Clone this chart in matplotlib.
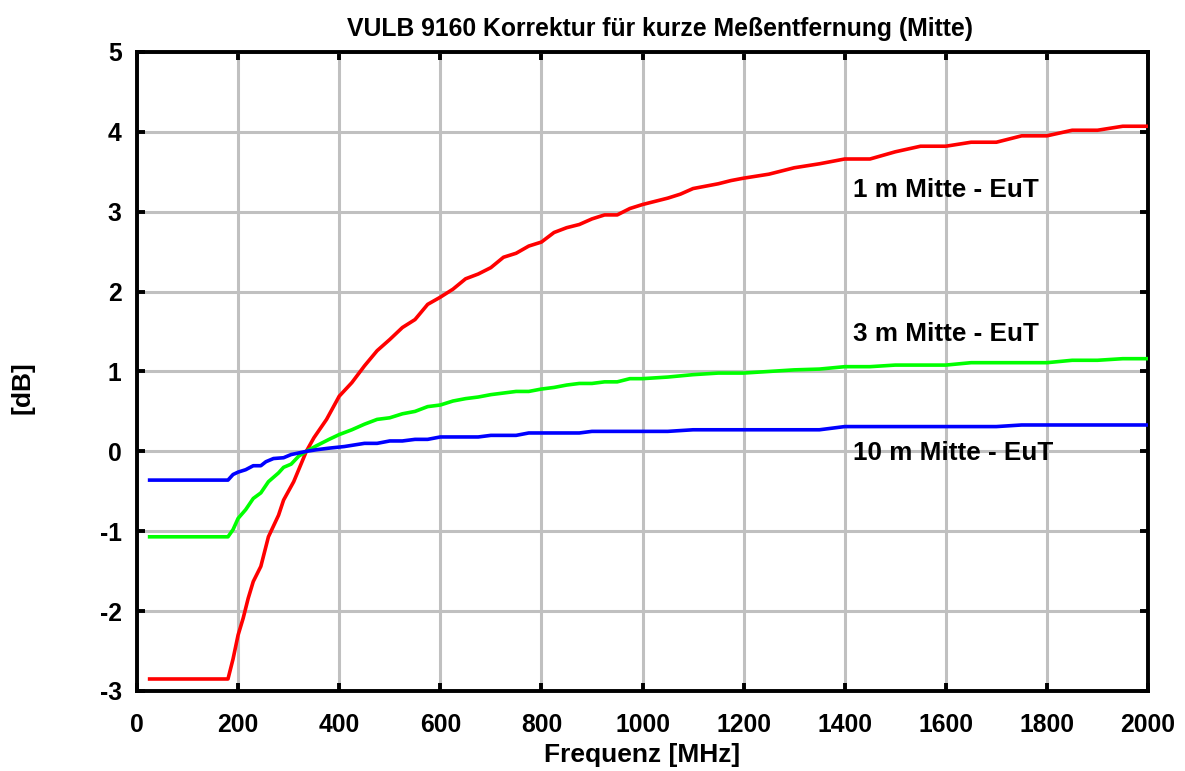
import matplotlib
matplotlib.use('Agg')
import matplotlib.pyplot as plt

plt.rcParams['font.family'] = ['Liberation Sans', 'DejaVu Sans']
plt.rcParams['font.weight'] = 'bold'
plt.rcParams['axes.unicode_minus'] = False

# 1 m Mitte - EuT
freq_1m = [25, 180, 190, 200, 210, 220, 230, 245, 260, 280, 290, 310, 335, 350, 375,
           400, 425, 450, 475, 500, 525, 550, 575, 600, 625, 650, 675, 700, 725, 750,
           775, 800, 825, 850, 875, 900, 925, 950, 975, 1000, 1025, 1050, 1075, 1100,
           1125, 1150, 1175, 1200, 1250, 1300, 1350, 1400, 1450, 1500, 1550, 1600,
           1650, 1700, 1750, 1800, 1850, 1900, 1950, 2000]
db_1m = [-2.85, -2.85, -2.60, -2.30, -2.09, -1.84, -1.63, -1.44, -1.07, -0.80, -0.61,
         -0.38, 0.00, 0.17, 0.40, 0.69, 0.86, 1.07, 1.26, 1.40, 1.55, 1.65, 1.84, 1.93,
         2.03, 2.16, 2.22, 2.30, 2.43, 2.48, 2.57, 2.62, 2.74, 2.80, 2.84, 2.91, 2.96,
         2.96, 3.04, 3.09, 3.13, 3.17, 3.22, 3.29, 3.32, 3.35, 3.39, 3.42, 3.47, 3.55,
         3.60, 3.66, 3.66, 3.75, 3.82, 3.82, 3.87, 3.87, 3.95, 3.95, 4.02, 4.02, 4.07,
         4.07]

# 3 m Mitte - EuT
freq_3m = [25, 180, 190, 200, 215, 230, 245, 260, 280, 290, 305, 320, 335, 355, 380,
           400, 425, 450, 475, 500, 525, 550, 575, 600, 625, 650, 675, 700, 750, 775,
           800, 825, 850, 875, 900, 925, 950, 975, 1000, 1050, 1100, 1150, 1200, 1250,
           1300, 1350, 1400, 1450, 1500, 1550, 1600, 1650, 1700, 1750, 1800, 1850,
           1900, 1950, 2000]
db_3m = [-1.07, -1.07, -0.98, -0.84, -0.73, -0.59, -0.52, -0.38, -0.27, -0.20, -0.16,
         -0.06, 0.00, 0.07, 0.15, 0.21, 0.27, 0.34, 0.40, 0.42, 0.47, 0.50, 0.56, 0.58,
         0.63, 0.66, 0.68, 0.71, 0.75, 0.75, 0.78, 0.80, 0.83, 0.85, 0.85, 0.87, 0.87,
         0.91, 0.91, 0.93, 0.96, 0.98, 0.98, 1.00, 1.02, 1.03, 1.06, 1.06, 1.08, 1.08,
         1.08, 1.11, 1.11, 1.11, 1.11, 1.14, 1.14, 1.16, 1.16]

# 10 m Mitte - EuT
freq_10m = [25, 180, 190, 200, 215, 230, 245, 255, 270, 290, 305, 320, 335, 355, 380,
            410, 430, 450, 475, 500, 525, 550, 575, 600, 675, 700, 750, 775, 875, 900,
            1050, 1100, 1350, 1400, 1700, 1750, 2000]
db_10m = [-0.36, -0.36, -0.29, -0.26, -0.23, -0.18, -0.18, -0.13, -0.09, -0.08, -0.04,
          -0.02, 0.00, 0.02, 0.04, 0.06, 0.08, 0.10, 0.10, 0.13, 0.13, 0.15, 0.15, 0.18,
          0.18, 0.20, 0.20, 0.23, 0.23, 0.25, 0.25, 0.27, 0.27, 0.31, 0.31, 0.33, 0.33]

labels = ["1 m Mitte - EuT", "3 m Mitte - EuT", "10 m Mitte - EuT"]
label_pos = [(1416, 3.27), (1416, 1.47), (1416, -0.02)]

x_ticks = list(range(0, 2001, 200))
y_ticks = list(range(-3, 6))

fig = plt.figure(figsize=(11.85, 7.71), dpi=100)
ax = fig.add_axes([0.1156, 0.1038, 0.8532, 0.8288])

ax.plot(freq_1m, db_1m, color='#ff0000', lw=2.6, zorder=3)
ax.plot(freq_3m, db_3m, color='#00ff00', lw=2.6, zorder=3)
ax.plot(freq_10m, db_10m, color='#0000ff', lw=2.6, zorder=3)

for txt, (x, y) in zip(labels, label_pos):
    ax.text(x, y, txt, fontsize=18.8, fontweight='bold', va='center', ha='left', zorder=4)

ax.set_xlim(0, 2000)
ax.set_ylim(-3, 5)
ax.set_xticks(x_ticks)
ax.set_yticks(y_ticks)
ax.grid(True, color='#c0c0c0', lw=2.2, zorder=0)
ax.set_axisbelow(True)
for sp in ax.spines.values():
    sp.set_linewidth(2.8)
ax.tick_params(direction='in', top=True, right=True, length=6, width=2.8,
               labelsize=17.8)
ax.tick_params(axis='x', pad=16)
ax.tick_params(axis='y', pad=11)

fig.text(0.557, 0.963, "VULB 9160 Korrektur für kurze Meßentfernung (Mitte)",
         ha='center', va='center', fontsize=17.8, fontweight='bold')
fig.text(0.542, 0.021, "Frequenz [MHz]", ha='center', va='center',
         fontsize=19, fontweight='bold')
fig.text(0.019, 0.497, "[dB]", ha='center', va='center', rotation=90,
         fontsize=19, fontweight='bold')

fig.savefig('out.png', dpi=100)
